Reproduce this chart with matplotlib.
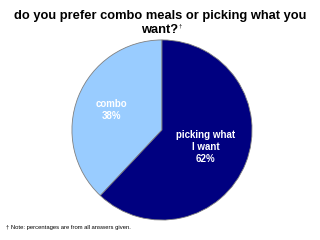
import numpy as np
import matplotlib.pyplot as plt

plt.rcParams['font.family'] = ['Liberation Sans', 'DejaVu Sans']

labels = ['combo', 'picking what\nI want']
shares = [38, 62]
colors = ['#99CCFF', '#000080']
label_dist = [0.6, 0.52]

fig = plt.figure(figsize=(3.2, 2.4), dpi=100)
fig.patch.set_facecolor('white')

ax = fig.add_axes([0.2234, 0.0813, 0.5656, 0.7542])
wedges, _ = ax.pie(shares, colors=colors, startangle=90, counterclock=True,
                   wedgeprops=dict(edgecolor='#808080', linewidth=0.6))
ax.set_xlim(-1.005, 1.005)
ax.set_ylim(-1.005, 1.005)
ax.set_aspect('equal')
ax.axis('off')

# labels inside slices
for w, lab, val, d in zip(wedges, labels, shares, label_dist):
    mid = np.deg2rad((w.theta1 + w.theta2) / 2)
    ax.text(d * np.cos(mid), d * np.sin(mid), f'{lab}\n{val}%',
            ha='center', va='center', color='white', fontsize=7,
            fontweight='bold', linespacing=1.25)

fig.text(0.5, 0.921, 'do you prefer combo meals or picking what you',
         ha='center', va='baseline', fontsize=9.3, fontweight='bold')
fig.text(0.5, 0.8625, 'want?', ha='center', va='baseline', fontsize=9.3,
         fontweight='bold')
fig.text(0.558, 0.887, '\u2020', ha='left', va='baseline', fontsize=4.5)

fig.text(0.018, 0.05, '\u2020 Note: percentages are from all answers given.',
         ha='left', va='center', fontsize=4.2)

fig.savefig('out.png', dpi=100)
